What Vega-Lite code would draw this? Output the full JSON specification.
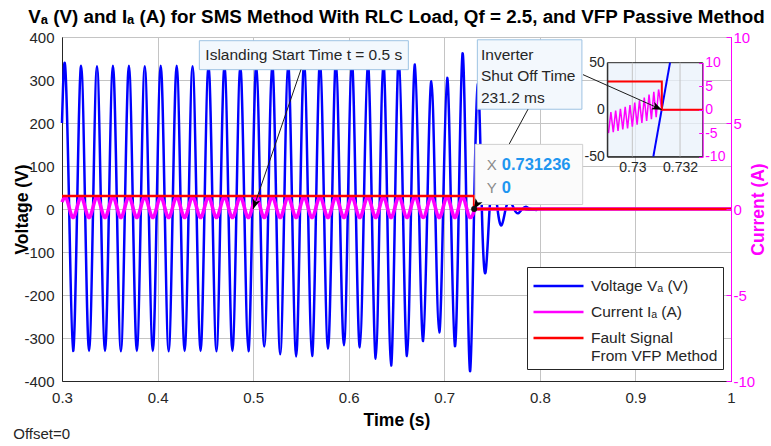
{
  "$schema": "https://vega.github.io/schema/vega-lite/v6.json",
  "width": 669,
  "height": 344,
  "autosize": "none",
  "padding": {"left": 62, "top": 37, "right": 40, "bottom": 65},
  "config": {
    "font": "Liberation Sans",
    "view": {"stroke": "#262626", "strokeWidth": 1}
  },
  "title": {
    "text": "Vₐ (V) and Iₐ (A) for SMS Method With RLC Load, Qf = 2.5, and VFP Passive Method",
    "fontSize": 18.8,
    "fontWeight": "bold",
    "color": "#000000",
    "anchor": "middle",
    "offset": 3
  },
  "datasets": {
    "volt": [
      {"t":0.3,"v":200},
      {"t":0.3033,"v":333},{"t":0.3075,"v":0},{"t":0.3116,"v":-330},{"t":0.3158,"v":0},
      {"t":0.32,"v":333},{"t":0.3242,"v":0},{"t":0.3283,"v":-330},{"t":0.3325,"v":0},
      {"t":0.3366,"v":332},{"t":0.3408,"v":0},{"t":0.345,"v":-330},{"t":0.3491,"v":0},
      {"t":0.3533,"v":333},{"t":0.3575,"v":0},{"t":0.3616,"v":-331},{"t":0.3658,"v":0},
      {"t":0.37,"v":333},{"t":0.3742,"v":0},{"t":0.3783,"v":-330},{"t":0.3825,"v":0},
      {"t":0.3866,"v":332},{"t":0.3908,"v":0},{"t":0.395,"v":-330},{"t":0.3991,"v":0},
      {"t":0.4033,"v":333},{"t":0.4075,"v":0},{"t":0.4116,"v":-331},{"t":0.4158,"v":0},
      {"t":0.42,"v":333},{"t":0.4242,"v":0},{"t":0.4283,"v":-330},{"t":0.4325,"v":0},
      {"t":0.4366,"v":332},{"t":0.4408,"v":0},{"t":0.445,"v":-330},{"t":0.4491,"v":0},
      {"t":0.4533,"v":333},{"t":0.4575,"v":0},{"t":0.4616,"v":-331},{"t":0.4658,"v":0},
      {"t":0.47,"v":333},{"t":0.4742,"v":0},{"t":0.4783,"v":-330},{"t":0.4825,"v":0},
      {"t":0.4866,"v":332},{"t":0.4908,"v":0},{"t":0.495,"v":-331},{"t":0.4991,"v":0},
      {"t":0.5033,"v":335},{"t":0.5075,"v":0},{"t":0.5116,"v":-320},{"t":0.5158,"v":0},
      {"t":0.52,"v":336},{"t":0.5242,"v":0},{"t":0.5283,"v":-338},{"t":0.5325,"v":0},
      {"t":0.5366,"v":338},{"t":0.5408,"v":0},{"t":0.545,"v":-343},{"t":0.5491,"v":0},
      {"t":0.5533,"v":340},{"t":0.5575,"v":0},{"t":0.5616,"v":-342},{"t":0.5658,"v":0},
      {"t":0.57,"v":345},{"t":0.5742,"v":0},{"t":0.5783,"v":-325},{"t":0.5825,"v":0},
      {"t":0.5866,"v":345},{"t":0.5908,"v":0},{"t":0.595,"v":-317},{"t":0.5991,"v":0},
      {"t":0.6033,"v":343},{"t":0.6075,"v":0},{"t":0.6116,"v":-322},{"t":0.6158,"v":0},
      {"t":0.62,"v":342},{"t":0.6242,"v":0},{"t":0.6283,"v":-348},{"t":0.6323,"v":0},
      {"t":0.6363,"v":340},{"t":0.6403,"v":0},{"t":0.6443,"v":-364},{"t":0.6484,"v":0},
      {"t":0.6525,"v":355},{"t":0.6568,"v":0},{"t":0.661,"v":-342},{"t":0.6652,"v":0},
      {"t":0.6693,"v":336},{"t":0.6736,"v":0},{"t":0.6779,"v":-307},{"t":0.6822,"v":0},
      {"t":0.6865,"v":297},{"t":0.6906,"v":0},{"t":0.6947,"v":-287},{"t":0.6988,"v":0},
      {"t":0.703,"v":305},{"t":0.707,"v":0},{"t":0.7111,"v":-319},{"t":0.7151,"v":0},
      {"t":0.7191,"v":362},{"t":0.7231,"v":0},{"t":0.7271,"v":-377},{"t":0.7312,"v":0},
      {"t":0.7355,"v":290},{"t":0.7393,"v":0},{"t":0.7432,"v":-147},{"t":0.7474,"v":0},
      {"t":0.7516,"v":65},{"t":0.7557,"v":0},{"t":0.7599,"v":-38},{"t":0.7642,"v":0},
      {"t":0.7686,"v":18},{"t":0.773,"v":0},{"t":0.7773,"v":-10},{"t":0.7816,"v":0},
      {"t":0.786,"v":5},{"t":0.7904,"v":0},{"t":0.7948,"v":-2},{"t":0.805,"v":0},{"t":1,"v":0}
    ],
    "curr": [
      {"t":0.3,"i":0.4},
      {"t":0.3033,"i":0.7},{"t":0.3116,"i":-0.5},
      {"t":0.32,"i":0.7},{"t":0.3283,"i":-0.5},
      {"t":0.3366,"i":0.7},{"t":0.345,"i":-0.5},
      {"t":0.3533,"i":0.7},{"t":0.3616,"i":-0.5},
      {"t":0.37,"i":0.7},{"t":0.3783,"i":-0.5},
      {"t":0.3866,"i":0.7},{"t":0.395,"i":-0.5},
      {"t":0.4033,"i":0.7},{"t":0.4116,"i":-0.5},
      {"t":0.42,"i":0.7},{"t":0.4283,"i":-0.5},
      {"t":0.4366,"i":0.7},{"t":0.445,"i":-0.5},
      {"t":0.4533,"i":0.7},{"t":0.4616,"i":-0.5},
      {"t":0.47,"i":0.7},{"t":0.4783,"i":-0.5},
      {"t":0.4866,"i":0.7},{"t":0.495,"i":-0.5},
      {"t":0.5033,"i":0.7},{"t":0.5116,"i":-0.5},
      {"t":0.52,"i":0.7},{"t":0.5283,"i":-0.5},
      {"t":0.5366,"i":0.7},{"t":0.545,"i":-0.5},
      {"t":0.5533,"i":0.7},{"t":0.5616,"i":-0.5},
      {"t":0.57,"i":0.7},{"t":0.5783,"i":-0.5},
      {"t":0.5866,"i":0.7},{"t":0.595,"i":-0.5},
      {"t":0.6033,"i":0.7},{"t":0.6116,"i":-0.5},
      {"t":0.62,"i":0.7},{"t":0.6283,"i":-0.5},
      {"t":0.6363,"i":0.7},{"t":0.6443,"i":-0.5},
      {"t":0.6525,"i":0.7},{"t":0.661,"i":-0.5},
      {"t":0.6693,"i":0.7},{"t":0.6779,"i":-0.5},
      {"t":0.6865,"i":0.7},{"t":0.6947,"i":-0.5},
      {"t":0.703,"i":0.7},{"t":0.7111,"i":-0.5},
      {"t":0.7191,"i":0.7},{"t":0.7271,"i":-0.5},
      {"t":0.7312,"i":-0.1},{"t":0.7313,"i":0},{"t":1,"i":0}
    ],
    "fault": [
      {"t":0.3,"v":30},{"t":0.731236,"v":30},{"t":0.731236,"v":0},{"t":1,"v":0}
    ],
    "insetV": [
      {"t":0.73088,"v":-50},{"t":0.73158,"v":50}
    ],
    "insetF": [
      {"t":0.72895,"v":30},{"t":0.731236,"v":30},{"t":0.731236,"v":0},{"t":0.73295,"v":0}
    ],
    "insetI": [
      {"t":0.729,"i":-5.0},{"t":0.7291,"i":-0.5},{"t":0.7292,"i":-4.8},{"t":0.7293,"i":-0.2},
      {"t":0.7294,"i":-4.5},{"t":0.7295,"i":0.2},{"t":0.7296,"i":-4.2},{"t":0.7297,"i":0.6},
      {"t":0.7298,"i":-4.0},{"t":0.7299,"i":1.0},{"t":0.73,"i":-3.6},{"t":0.7301,"i":1.5},
      {"t":0.7302,"i":-3.2},{"t":0.7303,"i":2.0},{"t":0.7304,"i":-2.8},{"t":0.7305,"i":2.6},
      {"t":0.7306,"i":-2.4},{"t":0.7307,"i":3.2},{"t":0.7308,"i":-2.0},{"t":0.7309,"i":3.8},
      {"t":0.731,"i":-1.6},{"t":0.7311,"i":4.3},{"t":0.731236,"i":0},{"t":0.73295,"i":0}
    ]
  },
  "layer": [
    {
      "layer": [
        {
          "data": {"name": "volt"},
          "mark": {"type": "line", "strokeWidth": 2.5, "interpolate": "natural"},
          "encoding": {
            "x": {
              "field": "t", "type": "quantitative",
              "scale": {"domain": [0.3, 1], "nice": false, "zero": false},
              "axis": {
                "values": [0.3, 0.4, 0.5, 0.6, 0.7, 0.8, 0.9, 1],
                "format": "~g", "grid": true, "gridColor": "#c4c4c4", "ticks": false,
                "domainColor": "#262626", "labelFontSize": 15, "labelColor": "#262626",
                "labelPadding": 9, "labelFlush": false, "labelOverlap": false,
                "title": "Time (s)", "titleFontSize": 17.5, "titleFontWeight": "bold",
                "titleColor": "#000000", "titlePadding": 6
              }
            },
            "y": {
              "field": "v", "type": "quantitative",
              "scale": {"domain": [-400, 400], "nice": false},
              "axis": {
                "orient": "left",
                "values": [-400, -300, -200, -100, 0, 100, 200, 300, 400],
                "labelExpr": "replace(datum.label, '−', '-')",
                "grid": true, "gridColor": "#c4c4c4", "ticks": false,
                "domainColor": "#262626", "labelFontSize": 15, "labelColor": "#262626",
                "labelPadding": 8, "title": "Voltage (V)", "titleFontSize": 17.5,
                "titleFontWeight": "bold", "titleColor": "#000000", "titlePadding": -8
              }
            },
            "color": {
              "datum": "V", "type": "nominal",
              "scale": {"domain": ["V", "I", "F"], "range": ["#0000ff", "#ff00ff", "#ff0000"]},
              "legend": {
                "orient": "none", "legendX": 465, "legendY": 230, "title": null,
                "symbolType": "M-2,0H2", "symbolSize": 625, "symbolStrokeWidth": 2.5,
                "symbolOffset": 12.5,
                "labelFontSize": 15.5, "labelColor": "#262626", "labelOffset": 18.5,
                "rowPadding": 3, "padding": 5, "strokeColor": "#262626", "fillColor": "#ffffff",
                "labelLimit": 300,
                "labelExpr": "datum.value == 'V' ? 'Voltage Vₐ (V)' : datum.value == 'I' ? 'Current Iₐ (A)' : ['Fault Signal', 'From VFP Method']"
              }
            }
          }
        },
        {
          "data": {"name": "curr"},
          "mark": {"type": "line", "strokeWidth": 3.5, "interpolate": "monotone"},
          "encoding": {
            "x": {"field": "t", "type": "quantitative", "scale": {"domain": [0.3, 1], "nice": false, "zero": false}},
            "y": {
              "field": "i", "type": "quantitative",
              "scale": {"domain": [-10, 10], "nice": false},
              "axis": {
                "orient": "right", "values": [-10, -5, 0, 5, 10], "grid": false,
                "labelExpr": "replace(datum.label, '−', '-')",
                "domainColor": "#ff00ff", "tickColor": "#ff00ff", "tickSize": -5,
                "labelColor": "#ff00ff", "labelFontSize": 15, "labelPadding": 7,
                "title": "Current (A)", "titleColor": "#ff00ff", "titleFontSize": 17.5,
                "titleFontWeight": "bold", "titleAngle": 270, "titleBaseline": "top",
                "titlePadding": -5, "zindex": 1
              }
            },
            "color": {"datum": "I", "type": "nominal"}
          }
        },
        {
          "layer": [
            {
              "data": {"name": "fault"},
              "mark": {"type": "line", "strokeWidth": 2.5},
              "encoding": {
                "x": {"field": "t", "type": "quantitative", "scale": {"domain": [0.3, 1], "nice": false, "zero": false}},
                "y": {"field": "v", "type": "quantitative", "scale": {"domain": [-400, 400], "nice": false}, "axis": null},
                "color": {"datum": "F", "type": "nominal"}
              }
            },
            {
              "data": {"values": [{}]},
              "mark": {"type": "rect", "fill": "#f3f8fd", "stroke": "#9ec3e3", "strokeWidth": 1},
              "encoding": {
                "x": {"datum": 0.4437, "type": "quantitative", "scale": {"domain": [0.3, 1], "nice": false, "zero": false}},
                "x2": {"datum": 0.6624},
                "y": {"datum": 391.4, "type": "quantitative", "scale": {"domain": [-400, 400], "nice": false}, "axis": null},
                "y2": {"datum": 324}
              }
            },
            {
              "data": {"values": [{}]},
              "mark": {"type": "text", "fontSize": 15.5, "color": "#262626", "align": "center", "baseline": "middle"},
              "encoding": {
                "x": {"datum": 0.553, "type": "quantitative", "scale": {"domain": [0.3, 1], "nice": false, "zero": false}},
                "y": {"datum": 357.7, "type": "quantitative", "scale": {"domain": [-400, 400], "nice": false}, "axis": null},
                "text": {"value": "Islanding Start Time t = 0.5 s"}
              }
            },
            {
              "data": {"values": [{}]},
              "mark": {"type": "rule", "color": "#1a1a1a", "strokeWidth": 1},
              "encoding": {
                "x": {"datum": 0.55, "type": "quantitative", "scale": {"domain": [0.3, 1], "nice": false, "zero": false}},
                "y": {"datum": 324, "type": "quantitative", "scale": {"domain": [-400, 400], "nice": false}, "axis": null},
                "x2": {"datum": 0.5},
                "y2": {"datum": 0}
              }
            },
            {
              "data": {"values": [{}]},
              "mark": {"type": "point", "shape": "M0,0L-0.4,1L0,0.75L0.4,1Z", "filled": true, "color": "#000000", "opacity": 1, "size": 400, "angle": 198.9, "strokeWidth": 0},
              "encoding": {
                "x": {"datum": 0.5, "type": "quantitative", "scale": {"domain": [0.3, 1], "nice": false, "zero": false}},
                "y": {"datum": 0, "type": "quantitative", "scale": {"domain": [-400, 400], "nice": false}, "axis": null}
              }
            },
            {
              "data": {"values": [{}]},
              "mark": {"type": "rect", "fill": "#f3f8fd", "stroke": "#9ec3e3", "strokeWidth": 1},
              "encoding": {
                "x": {"datum": 0.7346, "type": "quantitative", "scale": {"domain": [0.3, 1], "nice": false, "zero": false}},
                "x2": {"datum": 0.844},
                "y": {"datum": 393.5, "type": "quantitative", "scale": {"domain": [-400, 400], "nice": false}, "axis": null},
                "y2": {"datum": 232}
              }
            },
            {
              "data": {"values": [{}]},
              "mark": {"type": "text", "fontSize": 15.5, "color": "#262626", "align": "left", "baseline": "middle", "lineHeight": 21.7},
              "encoding": {
                "x": {"datum": 0.7384, "type": "quantitative", "scale": {"domain": [0.3, 1], "nice": false, "zero": false}},
                "y": {"datum": 358.9, "type": "quantitative", "scale": {"domain": [-400, 400], "nice": false}, "axis": null},
                "text": {"value": ["Inverter", "Shut Off Time", " 231.2 ms"]}
              }
            },
            {
              "data": {"values": [{}]},
              "mark": {"type": "rule", "color": "#1a1a1a", "strokeWidth": 1},
              "encoding": {
                "x": {"datum": 0.7876, "type": "quantitative", "scale": {"domain": [0.3, 1], "nice": false, "zero": false}},
                "y": {"datum": 232, "type": "quantitative", "scale": {"domain": [-400, 400], "nice": false}, "axis": null},
                "x2": {"datum": 0.731236},
                "y2": {"datum": 0}
              }
            },
            {
              "data": {"values": [{}]},
              "mark": {"type": "rect", "fill": "#fbfbfb", "stroke": "#cfcfcf", "strokeWidth": 1},
              "encoding": {
                "x": {"datum": 0.7322, "type": "quantitative", "scale": {"domain": [0.3, 1], "nice": false, "zero": false}},
                "x2": {"datum": 0.8448},
                "y": {"datum": 150.3, "type": "quantitative", "scale": {"domain": [-400, 400], "nice": false}, "axis": null},
                "y2": {"datum": 10.5}
              }
            },
            {
              "data": {"values": [{"k": "X", "v": 103.4}, {"k": "Y", "v": 49.2}]},
              "mark": {"type": "text", "fontSize": 15, "color": "#8a8a8a", "align": "center", "baseline": "middle"},
              "encoding": {
                "x": {"datum": 0.7496, "type": "quantitative", "scale": {"domain": [0.3, 1], "nice": false, "zero": false}},
                "y": {"field": "v", "type": "quantitative", "scale": {"domain": [-400, 400], "nice": false}, "axis": null},
                "text": {"field": "k"}
              }
            },
            {
              "data": {"values": [{"k": "0.731236", "v": 103.4}, {"k": "0", "v": 49.2}]},
              "mark": {"type": "text", "fontSize": 16.5, "fontWeight": "bold", "color": "#1f96f0", "align": "left", "baseline": "middle"},
              "encoding": {
                "x": {"datum": 0.7601, "type": "quantitative", "scale": {"domain": [0.3, 1], "nice": false, "zero": false}},
                "y": {"field": "v", "type": "quantitative", "scale": {"domain": [-400, 400], "nice": false}, "axis": null},
                "text": {"field": "k"}
              }
            },
            {
              "data": {"values": [{}]},
              "mark": {"type": "point", "shape": "M0,0L-0.4,1L0,0.75L0.4,1Z", "filled": true, "color": "#000000", "opacity": 1, "size": 400, "angle": 209.3, "strokeWidth": 0},
              "encoding": {
                "x": {"datum": 0.731236, "type": "quantitative", "scale": {"domain": [0.3, 1], "nice": false, "zero": false}},
                "y": {"datum": 0, "type": "quantitative", "scale": {"domain": [-400, 400], "nice": false}, "axis": null}
              }
            },
            {
              "data": {"values": [{}]},
              "mark": {"type": "point", "shape": "circle", "filled": true, "color": "#111111", "opacity": 1, "size": 36},
              "encoding": {
                "x": {"datum": 0.731236, "type": "quantitative", "scale": {"domain": [0.3, 1], "nice": false, "zero": false}},
                "y": {"datum": 0, "type": "quantitative", "scale": {"domain": [-400, 400], "nice": false}, "axis": null}
              }
            },
            {
              "data": {"values": [{}]},
              "mark": {"type": "text", "fontSize": 15, "color": "#262626", "align": "left", "baseline": "middle"},
              "encoding": {
                "x": {"datum": 0.249, "type": "quantitative", "scale": {"domain": [0.3, 1], "nice": false, "zero": false}},
                "y": {"datum": -523.8, "type": "quantitative", "scale": {"domain": [-400, 400], "nice": false}, "axis": null},
                "text": {"value": "Offset=0"}
              }
            }
          ]
        }
      ],
      "resolve": {"scale": {"y": "independent"}}
    },
    {
      "layer": [
        {
          "layer": [
            {
              "data": {"values": [{}]},
              "mark": {"type": "rect", "fill": "#eaf1fb", "fillOpacity": 0.75, "stroke": "#262626", "strokeWidth": 1},
              "encoding": {
                "x": {"datum": 0.72895, "type": "quantitative", "scale": {"domain": [0.72895, 0.73295], "range": [545.3, 640.7], "nice": false, "zero": false}},
                "x2": {"datum": 0.73295},
                "y": {"datum": -50, "type": "quantitative", "scale": {"domain": [-50, 50], "range": [119.7, 25.7], "nice": false, "zero": false}},
                "y2": {"datum": 50}
              }
            },
            {
              "data": {"values": [{"g": 0.73}, {"g": 0.732}]},
              "mark": {"type": "rule", "color": "#c4c4c4", "strokeWidth": 1},
              "encoding": {
                "x": {"field": "g", "type": "quantitative", "scale": {"domain": [0.72895, 0.73295], "range": [545.3, 640.7], "nice": false, "zero": false}},
                "y": {"datum": -50, "type": "quantitative", "scale": {"domain": [-50, 50], "range": [119.7, 25.7], "nice": false, "zero": false}},
                "y2": {"datum": 50}
              }
            },
            {
              "data": {"name": "insetV"},
              "mark": {"type": "line", "color": "#0000ff", "strokeWidth": 2},
              "encoding": {
                "x": {
                  "field": "t", "type": "quantitative",
                  "scale": {"domain": [0.72895, 0.73295], "range": [545.3, 640.7], "nice": false, "zero": false},
                  "axis": {
                    "orient": "bottom", "offset": -224.3, "values": [0.73, 0.732], "format": "~g",
                    "grid": false, "ticks": false, "domainColor": "#262626", "labelColor": "#262626",
                    "labelFontSize": 14, "labelPadding": 4, "labelFlush": false, "labelOverlap": false,
                    "title": null, "zindex": 1
                  }
                },
                "y": {
                  "field": "v", "type": "quantitative",
                  "scale": {"domain": [-50, 50], "range": [119.7, 25.7], "nice": false, "zero": false},
                  "axis": {
                    "orient": "left", "offset": -545.3, "values": [-50, 0, 50], "grid": false,
                    "labelExpr": "replace(datum.label, '−', '-')",
                    "ticks": false, "domainColor": "#262626", "labelColor": "#262626",
                    "labelFontSize": 14, "labelPadding": 3, "title": null, "zindex": 1
                  }
                }
              }
            }
          ]
        },
        {
          "data": {"name": "insetI"},
          "mark": {"type": "line", "color": "#ff00ff", "strokeWidth": 1.5},
          "encoding": {
            "x": {"field": "t", "type": "quantitative", "scale": {"domain": [0.72895, 0.73295], "range": [545.3, 640.7], "nice": false, "zero": false}},
            "y": {
              "field": "i", "type": "quantitative",
              "scale": {"domain": [-10, 10], "range": [119.7, 25.7], "nice": false, "zero": false},
              "axis": {
                "orient": "right", "offset": -28.3, "values": [-10, -5, 0, 5, 10], "grid": false,
                "labelExpr": "replace(datum.label, '−', '-')",
                "domainColor": "#ff00ff", "tickColor": "#ff00ff", "tickSize": -4,
                "labelColor": "#ff00ff", "labelFontSize": 14, "labelPadding": 6,
                "title": null, "zindex": 1
              }
            }
          }
        },
        {
          "layer": [
            {
              "data": {"name": "insetF"},
              "mark": {"type": "line", "color": "#ff0000", "strokeWidth": 2},
              "encoding": {
                "x": {"field": "t", "type": "quantitative", "scale": {"domain": [0.72895, 0.73295], "range": [545.3, 640.7], "nice": false, "zero": false}},
                "y": {"field": "v", "type": "quantitative", "scale": {"domain": [-50, 50], "range": [119.7, 25.7], "nice": false, "zero": false}, "axis": null}
              }
            },
            {
              "data": {"values": [{}]},
              "mark": {"type": "rule", "color": "#1a1a1a", "strokeWidth": 1},
              "encoding": {
                "x": {"datum": 0.72793, "type": "quantitative", "scale": {"domain": [0.72895, 0.73295], "range": [545.3, 640.7], "nice": false, "zero": false}},
                "y": {"datum": 37.3, "type": "quantitative", "scale": {"domain": [-50, 50], "range": [119.7, 25.7], "nice": false, "zero": false}, "axis": null},
                "x2": {"datum": 0.731236},
                "y2": {"datum": 0}
              }
            },
            {
              "data": {"values": [{}]},
              "mark": {"type": "point", "shape": "M0,0L-0.4,1L0,0.75L0.4,1Z", "filled": true, "color": "#000000", "opacity": 1, "size": 400, "angle": 114.1, "strokeWidth": 0},
              "encoding": {
                "x": {"datum": 0.731236, "type": "quantitative", "scale": {"domain": [0.72895, 0.73295], "range": [545.3, 640.7], "nice": false, "zero": false}},
                "y": {"datum": 0, "type": "quantitative", "scale": {"domain": [-50, 50], "range": [119.7, 25.7], "nice": false, "zero": false}, "axis": null}
              }
            }
          ]
        }
      ],
      "resolve": {"scale": {"y": "independent"}}
    }
  ],
  "resolve": {"scale": {"x": "independent", "y": "independent"}}
}
